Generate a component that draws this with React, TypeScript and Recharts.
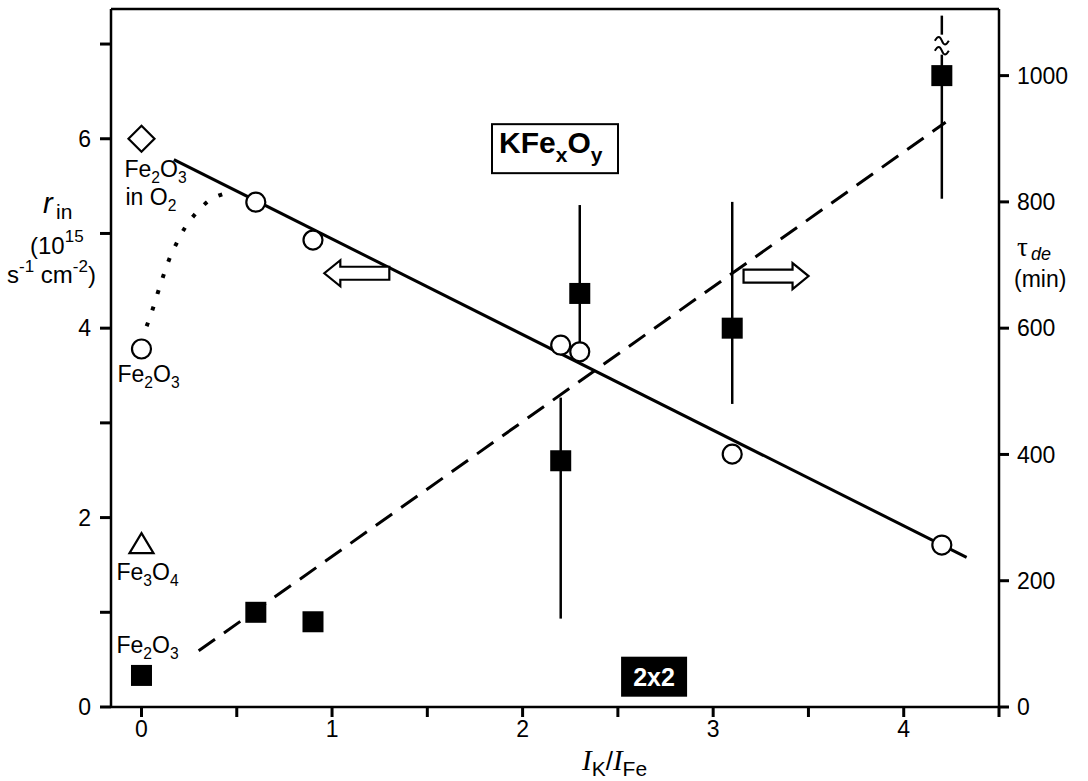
import React from 'react';
import {
  ComposedChart, XAxis, YAxis, Line, Scatter, ErrorBar, ReferenceLine, ReferenceDot, Label,
} from 'recharts';

// initial rate r_in (left axis), open circles
const rateX = [0, 0.6, 0.9, 2.2, 2.3, 3.1, 4.2];
const rateY = [3.78, 5.33, 4.93, 3.82, 3.75, 2.67, 1.71];

// deactivation time tau_de (right axis), filled squares with error bars
const tauX = [0, 0.6, 0.9, 2.2, 2.3, 3.1, 4.2];
const tauY = [50, 150, 135, 390, 655, 600, 1000];
const tauLow = [50, 150, 135, 140, 575, 480, 805];
const tauHigh = [50, 150, 135, 490, 795, 800, 1095];

// reference oxides at x = 0
const o2Point = { x: 0, y: 6.0 };
const fe3o4Point = { x: 0, y: 1.72 };

// fitted lines
const rateFitX = [0.17, 4.33];
const rateFitY = [5.78, 1.58];
const tauFitX = [0.3, 4.22];
const tauFitY = [89, 926];

// dotted guide from Fe2O3 towards the KFexOy branch
const guideX = [0.027, 0.057, 0.085, 0.114, 0.146, 0.185, 0.228, 0.284, 0.35, 0.434, 0.47];
const guideY = [4.02, 4.19, 4.37, 4.55, 4.73, 4.9, 5.06, 5.21, 5.34, 5.42, 5.44];

const xTicks = [0, 0.5, 1, 1.5, 2, 2.5, 3, 3.5, 4, 4.5];
const leftTicks = [0, 1, 2, 3, 4, 5, 6, 7];
const rightTicks = [0, 200, 400, 600, 800, 1000];

const rateData = rateX.map((x, i) => ({ x, y: rateY[i] }));
const tauData = tauX.map((x, i) => ({
  x,
  y: tauY[i],
  err: [tauY[i] - tauLow[i], tauHigh[i] - tauY[i]],
}));
const rateFit = rateFitX.map((x, i) => ({ x, y: rateFitY[i] }));
const tauFit = tauFitX.map((x, i) => ({ x, y: tauFitY[i] }));
const guide = guideX.map((x, i) => ({ x, y: guideY[i] }));

const SANS = '"Liberation Sans", Arial, sans-serif';
const SERIF = '"Liberation Serif", "Times New Roman", serif';

const OpenCircle = (p: any) => (
  <circle cx={p.cx} cy={p.cy} r={9.5} fill="#fff" stroke="#000" strokeWidth={2.2} />
);
const FilledSquare = (p: any) => (
  <rect x={p.cx - 10.5} y={p.cy - 10.5} width={21} height={21} fill="#000" />
);
const Diamond = (p: any) => (
  <path
    d={`M${p.cx},${p.cy - 13} L${p.cx + 13},${p.cy} L${p.cx},${p.cy + 13} L${p.cx - 13},${p.cy} Z`}
    fill="#fff" stroke="#000" strokeWidth={2.2}
  />
);
const Triangle = (p: any) => (
  <path
    d={`M${p.cx},${p.cy - 11} L${p.cx + 12},${p.cy + 9} L${p.cx - 12},${p.cy + 9} Z`}
    fill="#fff" stroke="#000" strokeWidth={2.2}
  />
);

const arrow = (dir: 1 | -1) => (p: any) => {
  const L = 65, h = 13, H = 26, hl = 16;
  const pts = [
    [-L / 2, -h / 2], [L / 2 - hl, -h / 2], [L / 2 - hl, -H / 2], [L / 2, 0],
    [L / 2 - hl, H / 2], [L / 2 - hl, h / 2], [-L / 2, h / 2],
  ].map(([a, b]) => `${p.cx + dir * a},${p.cy + b}`);
  return <polygon points={pts.join(' ')} fill="#fff" stroke="#000" strokeWidth={2.2} />;
};

const AxisBreak = (p: any) => (
  <g fill="none" stroke="#000" strokeWidth={2}>
    <rect x={p.cx - 5} y={p.cy - 10} width={10} height={20} fill="#fff" stroke="none" />
    <path d={`M${p.cx - 7},${p.cy - 4} c3,-5 5,-5 7,0 s4,5 7,0`} />
    <path d={`M${p.cx - 7},${p.cy + 6} c3,-5 5,-5 7,0 s4,5 7,0`} />
  </g>
);

const chem = (parts: [string, string][], dx: number, size = 23) => (p: any) => (
  <text x={p.cx + dx} y={p.cy} fontSize={size} fontFamily={SANS} fill="#000">
    {parts.map(([main, sub], i) => (
      <React.Fragment key={i}>
        <tspan dy={i > 0 && parts[i - 1][1] ? -6 : 0}>{main}</tspan>
        {sub ? <tspan fontSize={size * 0.68} dy={6}>{sub}</tspan> : null}
      </React.Fragment>
    ))}
  </text>
);

const KFeBox = (p: any) => (
  <g>
    <rect x={p.cx - 63} y={p.cy - 25} width={126} height={49} fill="#fff" stroke="#000" strokeWidth={2} />
    <text x={p.cx - 56} y={p.cy + 4} fontSize={30} fontWeight="bold" fontFamily={SANS} fill="#000">
      KFe<tspan fontSize={21} dy={9}>x</tspan><tspan dy={-9}>O</tspan><tspan fontSize={21} dy={9}>y</tspan>
    </text>
  </g>
);

const TwoByTwo = (p: any) => (
  <g>
    <rect x={p.cx - 33} y={p.cy - 20} width={66} height={40} fill="#000" />
    <text x={p.cx} y={p.cy + 9} textAnchor="middle" fontSize={25} fontWeight="bold" fontFamily={SANS} fill="#fff">
      2x2
    </text>
  </g>
);

const LeftTitle = () => (
  <g fill="#000" fontFamily={SANS}>
    <text x={43} y={213} fontSize={29} fontStyle="italic">r</text>
    <text x={56} y={219} fontSize={21}>in</text>
    <text x={30} y={254} fontSize={24}>
      (10<tspan fontSize={17} dy={-12}>15</tspan>
    </text>
    <text x={7} y={283} fontSize={24}>
      s<tspan fontSize={17} dy={-11}>-1</tspan>
      <tspan dy={11}> cm</tspan>
      <tspan fontSize={17} dy={-11}>-2</tspan>
      <tspan dy={11}>)</tspan>
    </text>
  </g>
);

const RightTitle = () => (
  <g fill="#000">
    <text x={1017} y={256} fontSize={27} fontFamily={SERIF}>τ</text>
    <text x={1031} y={260} fontSize={18} fontStyle="italic" fontFamily={SANS}>de</text>
    <text x={1014} y={287} fontSize={23} fontFamily={SANS}>(min)</text>
  </g>
);

const BottomTitle = () => (
  <text x={582} y={770} fill="#000" fontFamily={SANS} fontSize={21}>
    <tspan fontFamily={SERIF} fontStyle="italic" fontSize={29}>I</tspan>
    <tspan dy={6}>K</tspan>
    <tspan dy={-6} fontSize={26}>/</tspan>
    <tspan fontFamily={SERIF} fontStyle="italic" fontSize={29}>I</tspan>
    <tspan dy={6}>Fe</tspan>
  </text>
);

const tickStyle = { fill: '#000', fontSize: 23, fontFamily: SANS };
const lineStyle = { stroke: '#000', strokeWidth: 2.5 };
const tickLineStyle = { stroke: '#000', strokeWidth: 3 };

export default function App() {
  return (
    <div style={{ position: 'absolute', left: 0, top: 0, width: 1088, height: 781, background: '#fff', fontFamily: SANS }}>
      <ComposedChart width={1088} height={781} margin={{ top: 9, right: 0, bottom: 0, left: 0 }}>
        <XAxis
          dataKey="x" type="number" domain={[-0.16, 4.5]} ticks={xTicks} allowDataOverflow
          height={74} tickSize={10} tickMargin={4} tick={tickStyle}
          axisLine={lineStyle} tickLine={tickLineStyle}
          tickFormatter={(v: number) => (Number.isInteger(v) ? String(v) : '')}
        >
          <Label content={() => <BottomTitle />} />
        </XAxis>
        <YAxis
          yAxisId="left" type="number" domain={[0, 7.37]} ticks={leftTicks} allowDataOverflow
          width={111} tickSize={11} tickMargin={9} tick={tickStyle}
          axisLine={lineStyle} tickLine={tickLineStyle}
          tickFormatter={(v: number) => (v % 2 === 0 ? String(v) : '')}
        >
          <Label content={() => <LeftTitle />} />
        </YAxis>
        <YAxis
          yAxisId="right" orientation="right" type="number" domain={[0, 1105.5]} ticks={rightTicks} allowDataOverflow
          width={89} tickSize={10} tickMargin={8} tick={tickStyle}
          axisLine={lineStyle} tickLine={tickLineStyle}
        >
          <Label content={() => <RightTitle />} />
        </YAxis>

        <ReferenceLine yAxisId="left" y={7.37} stroke="#000" strokeWidth={2.5} ifOverflow="visible" />

        <Line data={rateFit} dataKey="y" yAxisId="left" type="linear" stroke="#000" strokeWidth={3}
          dot={false} activeDot={false} isAnimationActive={false} />
        <Line data={tauFit} dataKey="y" yAxisId="right" type="linear" stroke="#000" strokeWidth={3}
          strokeDasharray="20 11" dot={false} activeDot={false} isAnimationActive={false} />
        <Line data={guide} dataKey="y" yAxisId="left" type="monotone" stroke="#000" strokeWidth={4}
          strokeDasharray="4 13" dot={false} activeDot={false} isAnimationActive={false} />

        <Scatter data={tauData} dataKey="y" yAxisId="right" shape={FilledSquare} isAnimationActive={false}>
          <ErrorBar dataKey="err" direction="y" width={0} stroke="#000" strokeWidth={2.5} isAnimationActive={false} />
        </Scatter>
        <Scatter data={rateData} dataKey="y" yAxisId="left" shape={OpenCircle} isAnimationActive={false} />
        <Scatter data={[o2Point]} dataKey="y" yAxisId="left" shape={Diamond} isAnimationActive={false} />
        <Scatter data={[fe3o4Point]} dataKey="y" yAxisId="left" shape={Triangle} isAnimationActive={false} />

        <ReferenceDot yAxisId="right" x={4.2} y={1049} shape={AxisBreak} ifOverflow="visible" />
        <ReferenceDot yAxisId="left" x={1.13} y={4.58} shape={arrow(-1)} ifOverflow="visible" />
        <ReferenceDot yAxisId="left" x={3.33} y={4.55} shape={arrow(1)} ifOverflow="visible" />
        <ReferenceDot yAxisId="left" x={2.17} y={5.89} shape={KFeBox} ifOverflow="visible" />
        <ReferenceDot yAxisId="left" x={2.69} y={0.32} shape={TwoByTwo} ifOverflow="visible" />

        <ReferenceDot yAxisId="left" x={0} y={5.60} shape={chem([['Fe', '2'], ['O', '3']], -17)} ifOverflow="visible" />
        <ReferenceDot yAxisId="left" x={0} y={5.30} shape={chem([['in O', '2']], -16)} ifOverflow="visible" />
        <ReferenceDot yAxisId="left" x={0} y={3.43} shape={chem([['Fe', '2'], ['O', '3']], -24)} ifOverflow="visible" />
        <ReferenceDot yAxisId="left" x={0} y={1.34} shape={chem([['Fe', '3'], ['O', '4']], -25)} ifOverflow="visible" />
        <ReferenceDot yAxisId="left" x={0} y={0.57} shape={chem([['Fe', '2'], ['O', '3']], -25)} ifOverflow="visible" />
      </ComposedChart>
    </div>
  );
}
